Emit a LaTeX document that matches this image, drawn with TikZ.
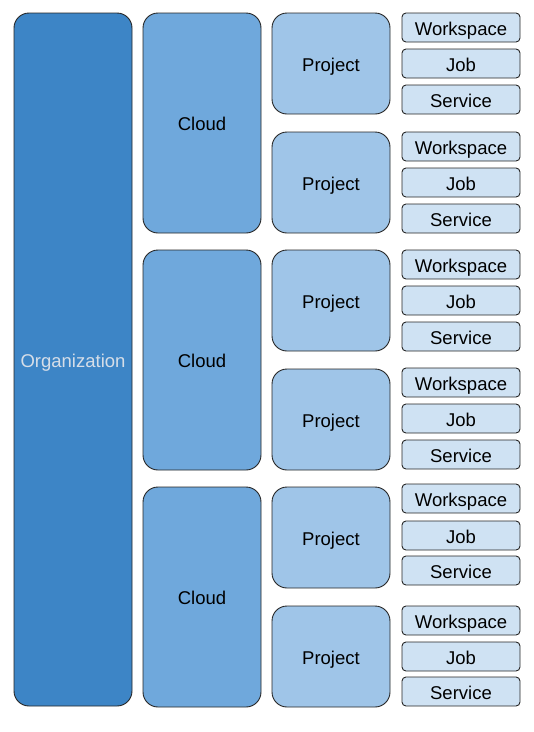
\documentclass[tikz,border=0pt]{standalone}
\usepackage{fontspec}
\setmainfont{Liberation Sans}
\definecolor{orgc}{HTML}{3D85C6}
\definecolor{cloudc}{HTML}{6FA8DC}
\definecolor{projc}{HTML}{9FC5E8}
\definecolor{itemc}{HTML}{CFE2F3}
\definecolor{orgtext}{HTML}{D6DEE8}
\begin{document}
\begin{tikzpicture}[x=1pt,y=-1pt,
  box/.style={draw=black!85,line width=0.9pt,rectangle,inner sep=0pt,outer sep=0pt,anchor=north west,
    font=\fontsize{18.5}{22}\selectfont,minimum width=118pt,text height=15.8pt,text depth=0pt},
  orgbox/.style={box,fill=orgc,text=orgtext,rounded corners=15pt,minimum height=693pt},
  cloudbox/.style={box,fill=cloudc,rounded corners=15pt,minimum height=220pt},
  projbox/.style={box,fill=projc,rounded corners=15pt,minimum height=101pt},
  itembox/.style={box,fill=itemc,rounded corners=4pt,minimum height=29pt}]
\useasboundingbox (0,0) rectangle (534,732);
\node[orgbox] (org) at (14,13) {Organization};
\node[cloudbox] (c1) at (143,13) {Cloud};
\node[cloudbox] (c2) at (143,250) {Cloud};
\node[cloudbox] (c3) at (143,487) {Cloud};
\foreach \i/\y in {1/13,2/132,3/250,4/369,5/487,6/606}{
  \node[projbox] (p\i) at (272,\y) {Project};
}
\foreach \i/\a/\b/\c in {1/13/49/85,2/132/168/204,3/250/286/322,4/368/404/440,5/484/521/556,6/606/642/677}{
  \node[itembox] (w\i) at (402,\a) {Workspace};
  \node[itembox] (j\i) at (402,\b) {Job};
  \node[itembox] (s\i) at (402,\c) {Service};
}
\end{tikzpicture}
\end{document}
